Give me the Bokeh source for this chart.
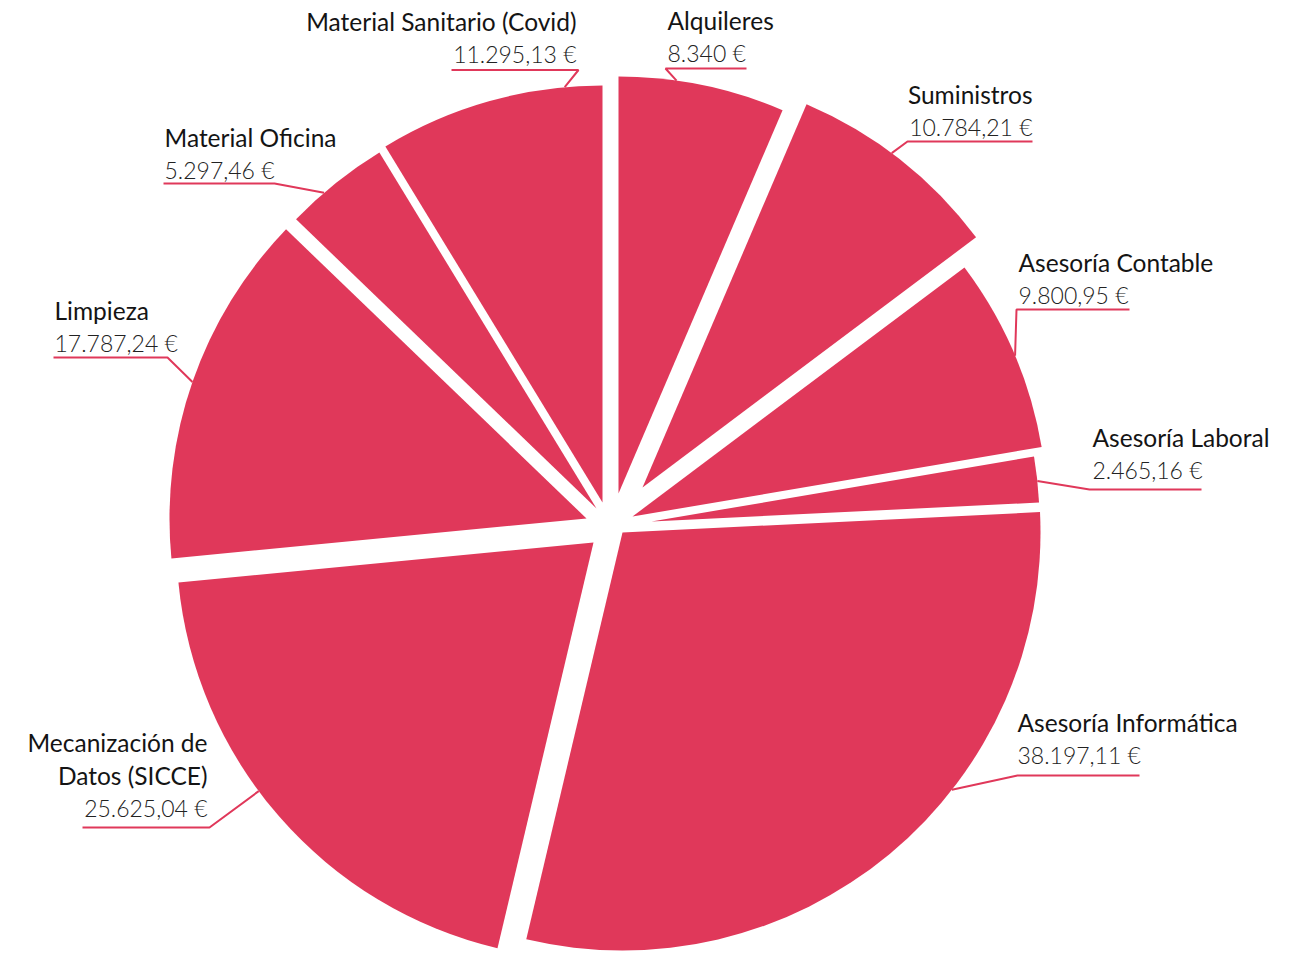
import math
from bokeh.plotting import figure
from bokeh.models import Range1d
from bokeh.core.properties import value
from bokeh.embed import file_html
from bokeh.resources import INLINE

# ---------------- data ----------------
categories = ["Alquileres", "Suministros", "Asesoría Contable", "Asesoría Laboral",
              "Asesoría Informática", "Mecanización de Datos (SICCE)", "Limpieza",
              "Material Oficina", "Material Sanitario (Covid)"]
title_lines = [["Alquileres"], ["Suministros"], ["Asesoría Contable"], ["Asesoría Laboral"],
               ["Asesoría Informática"], ["Mecanización de", "Datos (SICCE)"], ["Limpieza"],
               ["Material Oficina"], ["Material Sanitario (Covid)"]]
amounts = [8340.00, 10784.21, 9800.95, 2465.16, 38197.11, 25625.04, 17787.24, 5297.46, 11295.13]

# ---------------- layout (page pixels, y downward) ----------------
W, H = 1286, 955
PAGE_H = 958
OX, OY = 1, 1          # page position of the frame's top-left corner
TEXT_DY = -7           # baseline correction for svg text
apex = [(619, 494), (643, 488), (633, 517), (652, 522), (623, 533),
        (594, 543), (587, 519), (597, 509), (603, 503)]
radius = [417, 417, 415, 388, 418, 417, 417, 417, 417]
anchor_deg = [8.0, 36.7, 67.2, 84.0, 128.0, 233.4, 289.1, 319.2, 354.8]
label_x = [668, 1033, 1019, 1093, 1018, 208, 55, 165, 577]
label_align = ["left", "right", "left", "left", "left", "right", "left", "left", "right"]
title_base = [28, 102, 270, 445, 730, 750, 318, 145, 29]
underline = [(666, 747, 69), (908, 1033, 142), (1017, 1130, 310), (1090, 1202, 490),
             (1018, 1140, 776), (83, 210, 828), (54, 168, 358), (164, 275, 184),
             (452, 579, 70.5)]
LINE_GAP = 32.5
RED = "#E0385A"
TITLE_FONT = value("Lato")
VALUE_FONT = value("Lato Light")


def Y(sy):
    return PAGE_H - sy


def fmt_eur(v):
    s = f"{v:,.2f}".replace(",", "X").replace(".", ",").replace("X", ".")
    if s.endswith(",00"):
        s = s[:-3]
    return s + " €"


p = figure(width=W, height=H, x_range=Range1d(OX, OX + W),
           y_range=Range1d(PAGE_H - OY - H, PAGE_H - OY),
           output_backend="svg", toolbar_location=None,
           x_axis_location=None, y_axis_location=None, min_border=0)
p.outline_line_color = None
p.grid.visible = False
p.background_fill_color = "white"
p.border_fill_color = "white"

total = sum(amounts)
cum = 0.0
for i, a in enumerate(amounts):
    t1 = cum / total * 2 * math.pi
    cum += a
    t2 = cum / total * 2 * math.pi
    ax, ay = apex[i]
    p.wedge(x=[ax], y=[Y(ay)], radius=radius[i],
            start_angle=math.pi / 2 - t2, end_angle=math.pi / 2 - t1,
            fill_color=RED, line_color=None)

for i in range(len(amounts)):
    ax, ay = apex[i]
    th = math.radians(anchor_deg[i])
    rx = ax + radius[i] * math.sin(th)
    ry = ay - radius[i] * math.cos(th)
    x0, x1, uy = underline[i]
    if abs(rx - x0) <= abs(rx - x1):
        near, far = x0, x1
    else:
        near, far = x1, x0
    p.line(x=[rx, near, far], y=[Y(ry), Y(uy), Y(uy)], line_color=RED, line_width=2)

    lines = title_lines[i]
    for k, ln in enumerate(lines):
        p.text(x=[label_x[i]], y=[Y(title_base[i] + TEXT_DY + k * LINE_GAP)], text=[ln],
               text_align=label_align[i], text_baseline="alphabetic",
               text_font=TITLE_FONT, text_font_size="24.5px", text_color="#141414")
    p.text(x=[label_x[i]], y=[Y(title_base[i] + TEXT_DY + len(lines) * LINE_GAP)],
           text=[fmt_eur(amounts[i])],
           text_align=label_align[i], text_baseline="alphabetic",
           text_font=VALUE_FONT, text_font_size="23px", text_color="#222222")

open("out.html", "w").write(file_html(p, INLINE))
